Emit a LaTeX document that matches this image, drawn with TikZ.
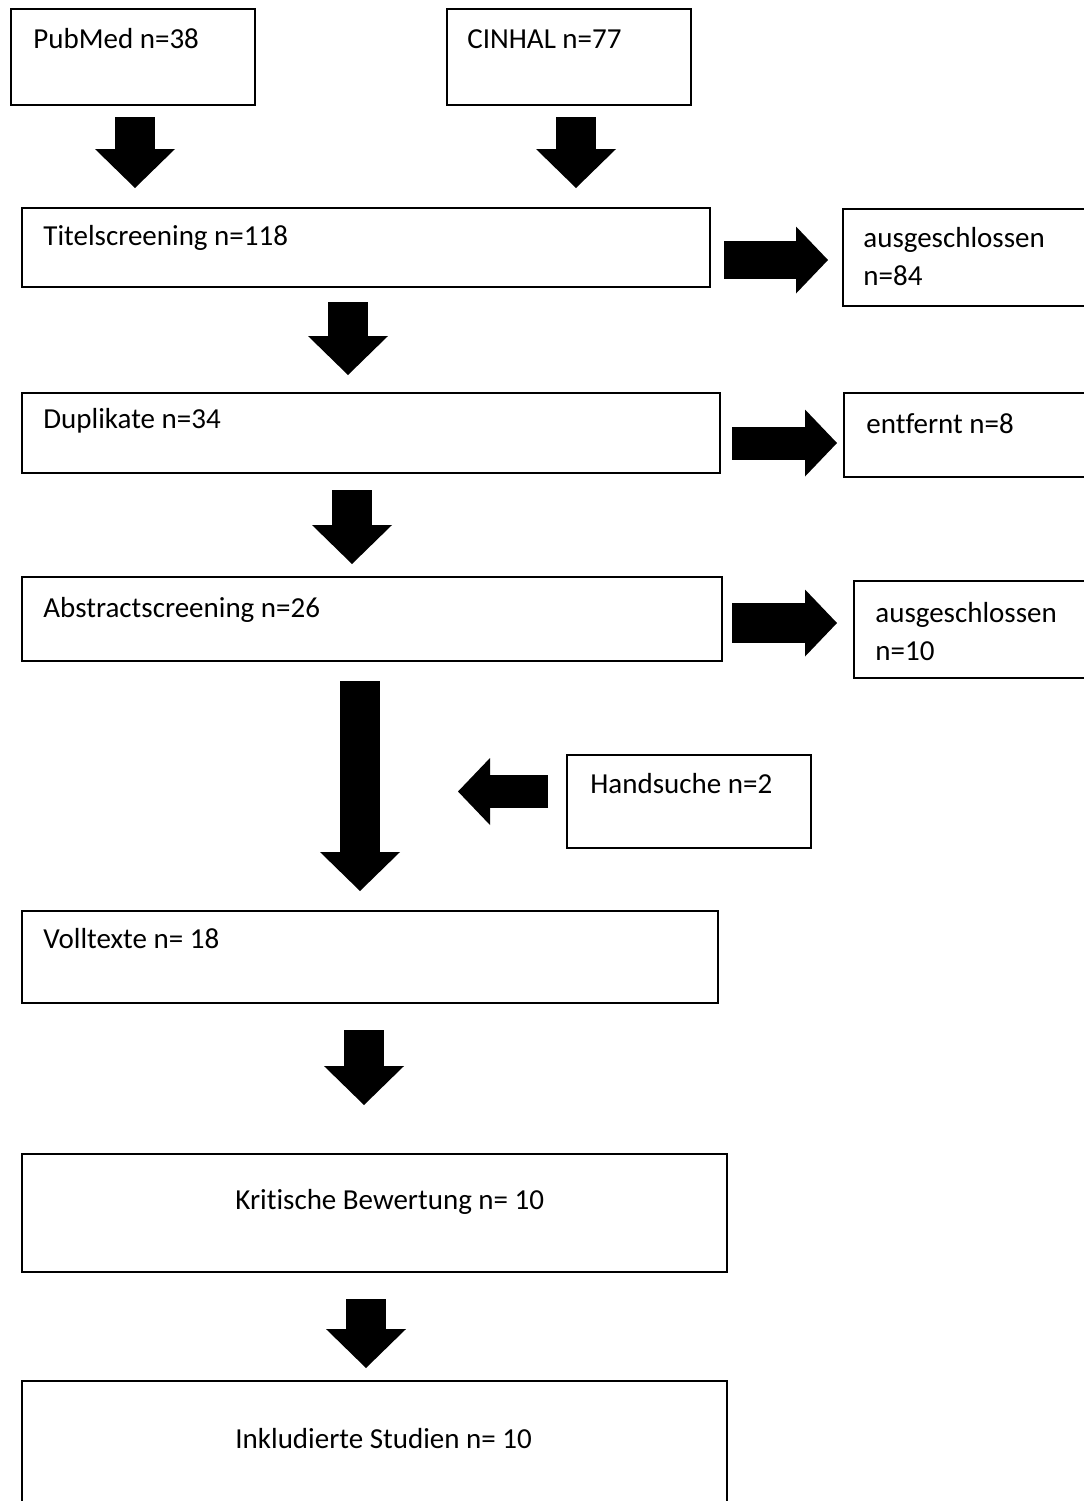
\documentclass[tikz,border=0pt]{standalone}
\usepackage{fontspec}
\setmainfont[Ligatures=NoCommon]{Carlito}
\usetikzlibrary{arrows.meta, calc}

\tikzset{
  box/.style={draw, line width=1pt, anchor=north west, inner sep=0pt},
  txt/.style={anchor=base west, inner sep=0pt, align=left, font=\fontsize{14.5}{18.8}\selectfont},
  downarrow/.style={line width=20pt, -{Triangle[length=19.5pt, width=40pt, line width=0pt]}},
  sidearrow/.style={line width=16.5pt, -{Triangle[length=16pt, width=33.5pt, line width=0pt]}},
}

\begin{document}
\begin{tikzpicture}[x=0.5pt, y=-0.5pt]
\useasboundingbox (0,0) rectangle (1083,1501);
% boxes
\node[box, minimum width=122pt, minimum height=48pt] (pubmed) at (10,8) {};
\node[box, minimum width=122pt, minimum height=48pt] (cinhal) at (446,8) {};
\node[box, minimum width=344pt, minimum height=39.5pt] (titel) at (21,207) {};
\node[box, minimum width=129pt, minimum height=48.5pt] (aus84) at (842,208) {};
\node[box, minimum width=349pt, minimum height=40pt] (duplikate) at (21,392) {};
\node[box, minimum width=129pt, minimum height=42pt] (entfernt) at (843,392) {};
\node[box, minimum width=350pt, minimum height=42pt] (abstract) at (21,576) {};
\node[box, minimum width=124pt, minimum height=48.5pt] (aus10) at (853,580) {};
\node[box, minimum width=122pt, minimum height=46.5pt] (handsuche) at (566,754) {};
\node[box, minimum width=348pt, minimum height=46pt] (volltexte) at (21,910) {};
\node[box, minimum width=352.5pt, minimum height=59pt] (kritisch) at (21,1153) {};
\node[box, minimum width=352.5pt, minimum height=70pt] (inkl) at (21,1380) {};

% texts
\node[txt] (pubmedtxt) at (33,48) {PubMed n=38};
\node[txt] (cinhaltxt) at (467,48) {CINHAL n=77};
\node[txt] (titeltxt) at (43,245) {Titelscreening n=118};
\node[txt] (aus84txt) at (863,285) {ausgeschlossen\\n=84};
\node[txt] (duplikatetxt) at (43,428) {Duplikate n=34};
\node[txt] (entfernttxt) at (866,433) {entfernt n=8};
\node[txt] (abstracttxt) at (43,617) {Abstractscreening n=26};
\node[txt] (aus10txt) at (875,660) {ausgeschlossen\\n=10};
\node[txt] (handsuchetxt) at (590,793) {Handsuche n=2};
\node[txt] (volltextetxt) at (43,948) {Volltexte n= 18};
\node[txt] (kritischtxt) at (235,1209) {Kritische Bewertung n= 10};
\node[txt] (inkltxt) at (235,1448) {Inkludierte Studien n= 10};

% block arrows
\draw[downarrow] ($(pubmed.south)+(2,11)$) -- ($(pubmed.south |- titel.north)+(2,-19)$);
\draw[downarrow] ($(cinhal.south)+(7,11)$) -- ($(cinhal.south |- titel.north)+(7,-19)$);
\draw[sidearrow, line width=19pt] ($(titel.east |- aus84.west)+(13,2.5)$) -- ($(aus84.west)+(-14,2.5)$);
\draw[downarrow] ($(titel.south)+(-18,14)$) -- ($(titel.south |- duplikate.north)+(-18,-17)$);
\draw[sidearrow] ($(duplikate.east |- entfernt.west)+(11,8)$) -- ($(entfernt.west)+(-6,8)$);
\draw[downarrow] ($(duplikate.south)+(-19,16)$) -- ($(duplikate.south |- abstract.north)+(-19,-12)$);
\draw[sidearrow, line width=20pt] ($(abstract.east |- aus10.west)+(9,-6.5)$) -- ($(aus10.west)+(-16,-6.5)$);
\draw[downarrow] ($(abstract.south)+(-12,19)$) -- ($(abstract.south |- volltexte.north)+(-12,-19)$);
\draw[sidearrow] ($(handsuche.west)+(-18,-10)$) -- ($(handsuche.west -| abstract.south)+(86,-10)$);
\draw[downarrow] ($(volltexte.south)+(-6,26)$) -- ($(volltexte.south |- kritisch.north)+(-6,-48)$);
\draw[downarrow] ($(kritisch.south)+(-8.5,26)$) -- ($(kritisch.south |- inkl.north)+(-8.5,-12)$);
\end{tikzpicture}
\end{document}
